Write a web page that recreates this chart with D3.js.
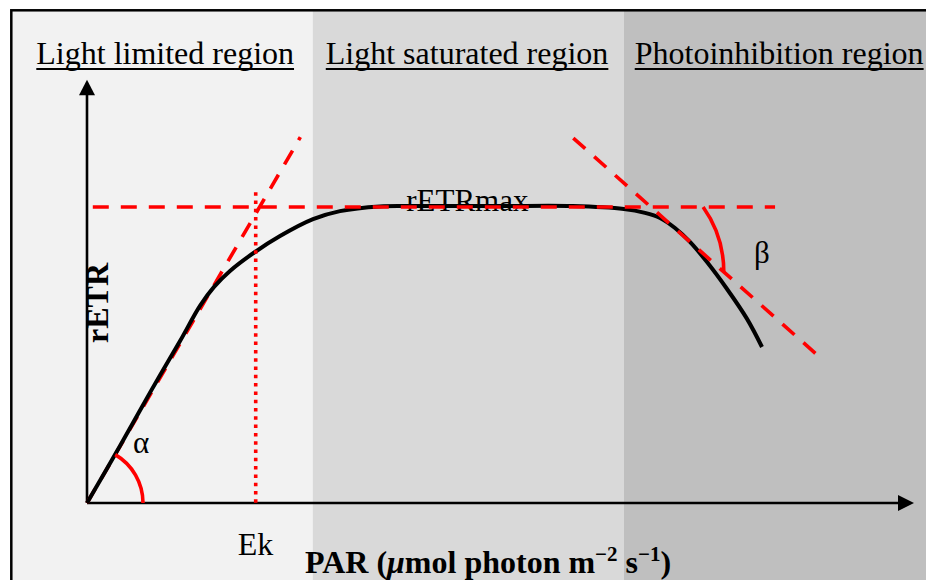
<!DOCTYPE html>
<html>
<head>
<meta charset="utf-8">
<script src="https://cdn.jsdelivr.net/npm/d3@7"></script>
<style>
    body { margin: 0; background: #fff; }
    text { font-family: "Liberation Serif", "Times New Roman", serif; }
</style>
</head>
<body>
<svg id="graph_svg"></svg>
<script>
// regions of the light curve (PAR where one region ends and the next starts)
const regionNames = ["Light limited region", "Light saturated region", "Photoinhibition region"];
const regionBreaks = [273, 649];
const regionColors = ["#f2f2f2", "#d9d9d9", "#bfbfbf"];

// rETR vs PAR curve (arbitrary units, rETRmax = 100)
const curvePAR = [0, 40, 76, 112.5, 136.6, 153.6, 172.9, 203.1, 233.4, 273.3, 305.9, 354, 403, 500, 587, 649.3, 674.7, 692.9, 711, 729.1, 749.7, 773.9, 798.1, 816.2];
const curveETR = [0, 19.3, 37.2, 54.7, 66.6, 73, 78.4, 84.8, 90.2, 95.9, 98.6, 100.2, 100.3, 100.3, 100.3, 99.3, 98, 96.3, 92.9, 88.2, 81.4, 72.3, 62.2, 52.7];

// helper lines
const alphaLine = [[0, 0], [258, 123.6]];        // initial slope
const maxLine = [[7, 100], [832, 100]];          // rETRmax
const betaLine = [[588, 123.3], [883, 50]];      // photoinhibition slope
const ekPAR = 204;
const ekTop = 105;
const axisMax = [1000, 143];

const width = 926, height = 580;
const originX = 87, originY = 503;

const svg = d3.select("#graph_svg")
    .attr("width", width)
    .attr("height", height);

const x = d3.scaleLinear().domain([0, 1000]).range([originX, 914]);
const y = d3.scaleLinear().domain([0, 100]).range([originY, 207]);

// background regions
const frameLeft = 11.3, frameTop = 10.3;
const bounds = [frameLeft].concat(regionBreaks.map(d => x(d))).concat([width + 10]);
svg.selectAll(".region")
    .data(regionNames)
    .enter()
    .append("rect")
    .attr("class", "region")
    .attr("x", (d, i) => bounds[i])
    .attr("y", frameTop)
    .attr("width", (d, i) => bounds[i + 1] - bounds[i])
    .attr("height", height)
    .attr("fill", (d, i) => regionColors[i]);

svg.append("rect")
    .attr("x", frameLeft)
    .attr("y", frameTop)
    .attr("width", width + 20)
    .attr("height", height + 20)
    .attr("fill", "none")
    .attr("stroke", "#000")
    .attr("stroke-width", 2.5);

// region titles, underlined
const labelPad = [25, 13, 11];
svg.selectAll(".regionLabel")
    .data(regionNames)
    .enter()
    .append("text")
    .attr("class", "regionLabel")
    .attr("x", (d, i) => bounds[i] + labelPad[i])
    .attr("y", 64)
    .attr("font-size", 32)
    .attr("fill", "#000")
    .text(d => d)
    .each(function () {
        const t = d3.select(this);
        const len = this.getComputedTextLength();
        svg.append("line")
            .attr("x1", +t.attr("x"))
            .attr("x2", +t.attr("x") + len)
            .attr("y1", 69)
            .attr("y2", 69)
            .attr("stroke", "#000")
            .attr("stroke-width", 2);
    });

// rETRmax label
svg.append("text")
    .attr("x", x(386))
    .attr("y", 211)
    .attr("font-size", 31)
    .text("rETRmax");

// axes with arrow heads
svg.append("line")
    .attr("x1", x(0)).attr("y1", y(0))
    .attr("x2", x(0)).attr("y2", y(axisMax[1]) + 10)
    .attr("stroke", "#000").attr("stroke-width", 2.6);
svg.append("line")
    .attr("x1", x(0)).attr("y1", y(0))
    .attr("x2", x(axisMax[0]) - 10).attr("y2", y(0))
    .attr("stroke", "#000").attr("stroke-width", 2.6);

const tipY = y(axisMax[1]);
svg.append("path")
    .attr("d", `M${x(0)},${tipY} L${x(0) - 8},${tipY + 15.5} L${x(0) + 8},${tipY + 15.5} Z`)
    .attr("fill", "#000");
const tipX = x(axisMax[0]);
svg.append("path")
    .attr("d", `M${tipX},${y(0)} L${tipX - 16},${y(0) - 8} L${tipX - 16},${y(0) + 8} Z`)
    .attr("fill", "#000");

// axis titles
svg.append("text")
    .attr("transform", `translate(108, 303) rotate(-90)`)
    .attr("text-anchor", "middle")
    .attr("font-size", 32)
    .attr("font-weight", "bold")
    .text("rETR");

const parLabel = svg.append("text")
    .attr("x", 305)
    .attr("y", 573)
    .attr("font-size", 32)
    .attr("font-weight", "bold");
parLabel.append("tspan").text("PAR (");
parLabel.append("tspan").attr("font-style", "italic").text("\u03bc");
parLabel.append("tspan").text("mol photon m");
parLabel.append("tspan").attr("font-size", 21).attr("dy", -12).text("\u22122");
parLabel.append("tspan").attr("dy", 12).text(" s");
parLabel.append("tspan").attr("font-size", 21).attr("dy", -12).text("\u22121");
parLabel.append("tspan").attr("dy", 12).text(")");

svg.append("text")
    .attr("x", x(ekPAR) - 18)
    .attr("y", 555)
    .attr("font-size", 32)
    .text("Ek");

// initial slope line (under the curve)
const line = d3.line().x(d => x(d[0])).y(d => y(d[1]));
const redDash = sel => sel
    .attr("fill", "none")
    .attr("stroke", "#ff0000")
    .attr("stroke-width", 3.6)
    .attr("stroke-dasharray", "16,12");

svg.append("path")
    .attr("d", line(alphaLine))
    .call(redDash);

// light curve
const curve = d3.line()
    .x((d, i) => x(curvePAR[i]))
    .y(d => y(d))
    .curve(d3.curveCatmullRom.alpha(0.5));

svg.append("path")
    .datum(curveETR)
    .attr("d", curve)
    .attr("fill", "none")
    .attr("stroke", "#000")
    .attr("stroke-width", 4);

svg.append("path").attr("d", line(maxLine)).call(redDash);
svg.append("path").attr("d", line(betaLine)).call(redDash);

// Ek dotted line
svg.append("line")
    .attr("x1", x(ekPAR)).attr("x2", x(ekPAR))
    .attr("y1", y(ekTop)).attr("y2", y(0))
    .attr("stroke", "#ff0000")
    .attr("stroke-width", 3.6)
    .attr("stroke-dasharray", "3.5,4.8");

// alpha arc, centred at the origin, from the x axis up to the slope line
const aAngle = Math.atan2(y(alphaLine[1][1]) - y(0), x(alphaLine[1][0]) - x(0));
const aPath = d3.path();
aPath.arc(x(0), y(0), 56, aAngle, 0, false);
svg.append("path")
    .attr("d", aPath.toString())
    .attr("fill", "none")
    .attr("stroke", "#ff0000")
    .attr("stroke-width", 3.6);

// beta arc, from the rETRmax line down to the inhibition line
const bSlope = (y(betaLine[1][1]) - y(betaLine[0][1])) / (x(betaLine[1][0]) - x(betaLine[0][0]));
const bsx = x(745), bsy = y(100);
const bex = x(770);
const bey = y(betaLine[0][1]) + bSlope * (bex - x(betaLine[0][0]));
const br = ((bex - bsx) ** 2 + (bey - bsy) ** 2) / (2 * (bex - bsx));
const bPath = d3.path();
bPath.arc(bex - br, bey, br, Math.atan2(bsy - bey, bsx - (bex - br)), 0, false);
svg.append("path")
    .attr("d", bPath.toString())
    .attr("fill", "none")
    .attr("stroke", "#ff0000")
    .attr("stroke-width", 3.6);

// greek letters
svg.append("text")
    .attr("x", 133).attr("y", 453)
    .attr("font-size", 31)
    .text("\u03b1");
svg.append("text")
    .attr("x", 754).attr("y", 263)
    .attr("font-size", 31)
    .text("\u03b2");
</script>
</body>
</html>
